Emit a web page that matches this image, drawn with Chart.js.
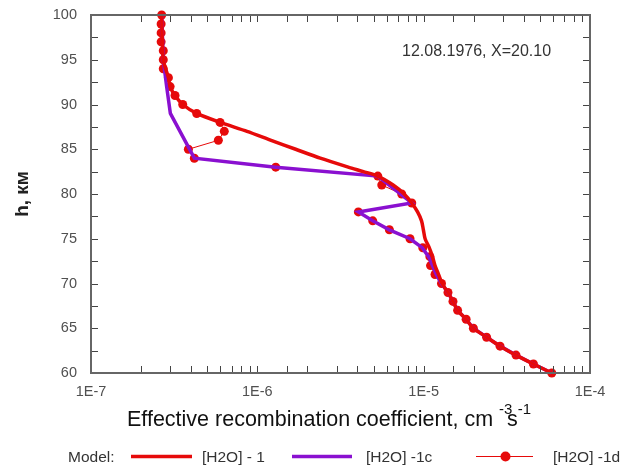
<!DOCTYPE html>
<html>
<head>
<meta charset="utf-8">
<script src="https://cdn.jsdelivr.net/npm/chart.js@4.4.1/dist/chart.umd.min.js"></script>
<style>
  body { margin: 0; background: #fff; }
  canvas { display: block; }
</style>
</head>
<body>
<canvas id="chart" width="643" height="465"></canvas>
<script>
// Данные
const heightsD = [100, 99, 98, 97, 96, 95, 94, 93, 92, 91, 90, 89, 88, 87, 86, 85, 84, 83, 82, 81, 80,
                  79, 78, 77, 76, 75, 74, 73, 72, 71, 70, 69, 68, 67, 66, 65, 64, 63, 62, 61, 60];
const valuesD = [2.66e-7, 2.64e-7, 2.64e-7, 2.64e-7, 2.72e-7, 2.72e-7, 2.72e-7, 2.92e-7, 2.99e-7, 3.20e-7,
                 3.56e-7, 4.32e-7, 5.97e-7, 6.33e-7, 5.83e-7, 3.85e-7, 4.18e-7, 1.29e-6, 5.30e-6, 5.60e-6,
                 7.38e-6, 8.48e-6, 4.05e-6, 4.94e-6, 6.22e-6, 8.28e-6, 9.88e-6, 1.09e-5, 1.10e-5, 1.17e-5,
                 1.28e-5, 1.40e-5, 1.50e-5, 1.60e-5, 1.80e-5, 1.99e-5, 2.39e-5, 2.88e-5, 3.59e-5, 4.57e-5, 5.89e-5];

const heightsC = [100, 95, 92, 89, 84, 83, 82, 79, 78, 77, 76, 75, 74, 73, 72, 71, 70,
                  69, 68, 67, 66, 65, 64, 63, 62, 61, 60];
const valuesC = [2.66e-7, 2.72e-7, 2.85e-7, 3.0e-7, 4.18e-7, 1.29e-6, 5.30e-6, 8.48e-6, 4.05e-6, 4.94e-6,
                 6.22e-6, 8.28e-6, 9.8e-6, 1.07e-5, 1.13e-5, 1.19e-5, 1.28e-5,
                 1.40e-5, 1.50e-5, 1.60e-5, 1.80e-5, 1.99e-5, 2.39e-5, 2.88e-5, 3.59e-5, 4.57e-5, 5.89e-5];

const heightsR = [100, 95, 93, 92, 91, 90, 89, 88, 87, 86, 85, 84, 83, 82.5, 82, 81, 80, 79, 78, 77, 76,
                  75, 74, 73, 72, 71, 70, 69, 68, 67, 66, 65, 64, 63, 62, 61, 60];
const valuesR = [2.66e-7, 2.72e-7, 2.92e-7, 2.99e-7, 3.20e-7, 3.56e-7, 4.32e-7, 5.97e-7, 8.67e-7, 1.21e-6,
                 1.70e-6, 2.39e-6, 3.52e-6, 4.34e-6, 5.30e-6, 6.55e-6, 7.63e-6, 8.48e-6, 9.19e-6, 9.71e-6,
                 9.96e-6, 1.02e-5, 1.08e-5, 1.13e-5, 1.17e-5, 1.23e-5, 1.29e-5,
                 1.40e-5, 1.50e-5, 1.60e-5, 1.80e-5, 1.99e-5, 2.39e-5, 2.88e-5, 3.59e-5, 4.57e-5, 5.89e-5];

const seriesLabels = ['[H2O] - 1', '[H2O] -1c', '[H2O] -1d'];
const xTitle = 'Effective recombination coefficient, cm';
const yTitle = 'h, км';
const note = '12.08.1976, X=20.10';

const RED = '#e60a0a';
const PURPLE = '#8a10d0';
const FONT = "'Liberation Sans', Arial, sans-serif";

function toPoints(hs, vs) {
    return hs.map((h, i) => ({ x: vs[i], y: h }));
}

// рамка, внутренние засечки, подписи, легенда
const decorPlugin = {
    id: 'decor',
    afterDraw(chart) {
        const { ctx, chartArea: a, scales } = chart;
        const tl = 7;
        ctx.save();
        ctx.strokeStyle = '#444';
        ctx.lineWidth = 1;
        ctx.beginPath();
        scales.x.ticks.forEach(t => {
            const px = Math.round(scales.x.getPixelForValue(t.value)) + 0.5;
            if (px < a.left + 1 || px > a.right - 1) return;
            ctx.moveTo(px, a.bottom); ctx.lineTo(px, a.bottom - tl);
            ctx.moveTo(px, a.top); ctx.lineTo(px, a.top + tl);
        });
        scales.y.ticks.forEach(t => {
            const py = Math.round(scales.y.getPixelForValue(t.value)) + 0.5;
            if (py < a.top + 1 || py > a.bottom - 1) return;
            ctx.moveTo(a.left, py); ctx.lineTo(a.left + tl, py);
            ctx.moveTo(a.right, py); ctx.lineTo(a.right - tl, py);
        });
        ctx.stroke();

        ctx.strokeStyle = '#666';
        ctx.lineWidth = 2;
        ctx.strokeRect(a.left, a.top, a.right - a.left, a.bottom - a.top);

        // надпись в углу
        ctx.fillStyle = '#333';
        ctx.font = '16px ' + FONT;
        ctx.textBaseline = 'alphabetic';
        ctx.textAlign = 'left';
        ctx.fillText(note, 402, 56);

        // подпись оси X со степенями
        ctx.fillStyle = '#111';
        ctx.font = '21.5px ' + FONT;
        const x0 = 127, base = 425.5;
        ctx.fillText(xTitle, x0, base);
        const x1 = x0 + ctx.measureText(xTitle).width;
        ctx.font = '15px ' + FONT;
        ctx.fillText('-3', x1 + 6, base - 12);
        ctx.font = '21.5px ' + FONT;
        const xs = x1 + 14;
        ctx.fillText('s', xs, base);
        const x2 = xs + ctx.measureText('s').width;
        ctx.font = '15px ' + FONT;
        ctx.fillText('-1', x2, base - 12);

        // подпись оси Y
        ctx.save();
        ctx.translate(23, (a.top + a.bottom) / 2);
        ctx.rotate(-Math.PI / 2);
        ctx.font = 'bold 19px ' + FONT;
        ctx.textAlign = 'center';
        ctx.textBaseline = 'middle';
        ctx.fillStyle = '#222';
        ctx.fillText(yTitle, 0, 0);
        ctx.restore();

        // легенда
        const ly = 456.5, lb = 461.5;
        ctx.font = '15.5px ' + FONT;
        ctx.fillStyle = '#333';
        ctx.fillText('Model:', 68, lb);
        ctx.lineCap = 'butt';
        ctx.strokeStyle = RED; ctx.lineWidth = 3.5;
        ctx.beginPath(); ctx.moveTo(131, ly); ctx.lineTo(192, ly); ctx.stroke();
        ctx.fillText(seriesLabels[0], 202, lb);
        ctx.strokeStyle = PURPLE; ctx.lineWidth = 3.5;
        ctx.beginPath(); ctx.moveTo(292, ly); ctx.lineTo(352, ly); ctx.stroke();
        ctx.fillText(seriesLabels[1], 366, lb);
        ctx.strokeStyle = RED; ctx.lineWidth = 1;
        ctx.beginPath(); ctx.moveTo(476, ly); ctx.lineTo(533, ly); ctx.stroke();
        ctx.fillStyle = RED;
        ctx.beginPath(); ctx.arc(505.5, ly, 5, 0, Math.PI * 2); ctx.fill();
        ctx.fillStyle = '#333';
        ctx.fillText(seriesLabels[2], 553, lb);
        ctx.restore();
    }
};

new Chart(document.getElementById('chart'), {
    type: 'scatter',
    data: {
        datasets: [
            {
                label: seriesLabels[0],
                data: toPoints(heightsR, valuesR),
                showLine: true,
                borderColor: RED,
                borderWidth: 3.5,
                pointRadius: 0,
                tension: 0.25,
                clip: false
            },
            {
                label: seriesLabels[1],
                data: toPoints(heightsC, valuesC),
                showLine: true,
                borderColor: PURPLE,
                borderWidth: 3.5,
                pointRadius: 0,
                tension: 0,
                clip: false
            },
            {
                label: seriesLabels[2],
                data: toPoints(heightsD, valuesD),
                showLine: true,
                borderColor: RED,
                borderWidth: 1,
                pointRadius: 4.5,
                pointBackgroundColor: RED,
                pointBorderWidth: 0,
                tension: 0,
                clip: false
            }
        ]
    },
    options: {
        responsive: false,
        devicePixelRatio: 1,
        animation: false,
        layout: { padding: { left: 0, right: 53, top: 15, bottom: 0 } },
        plugins: { legend: { display: false }, tooltip: { enabled: false } },
        scales: {
            x: {
                type: 'logarithmic',
                min: 1e-7,
                max: 1e-4,
                grid: { display: false },
                border: { display: false },
                afterFit(scale) { scale.height = 92; },
                ticks: {
                    autoSkip: false,
                    maxRotation: 0,
                    padding: 2,
                    color: '#505050',
                    font: { family: FONT, size: 14.5 },
                    callback(v) {
                        const e = Math.log10(v);
                        return Math.abs(e - Math.round(e)) < 1e-6 ? '1E' + Math.round(e) : '';
                    }
                }
            },
            y: {
                type: 'linear',
                min: 60,
                max: 100,
                grid: { display: false },
                border: { display: false },
                afterFit(scale) { scale.width = 91; },
                ticks: {
                    stepSize: 2.5,
                    autoSkip: false,
                    padding: 6,
                    color: '#505050',
                    font: { family: FONT, size: 14.5 },
                    callback: v => (v % 5 === 0 ? String(v) : '')
                }
            }
        }
    },
    plugins: [decorPlugin]
});
</script>
</body>
</html>
